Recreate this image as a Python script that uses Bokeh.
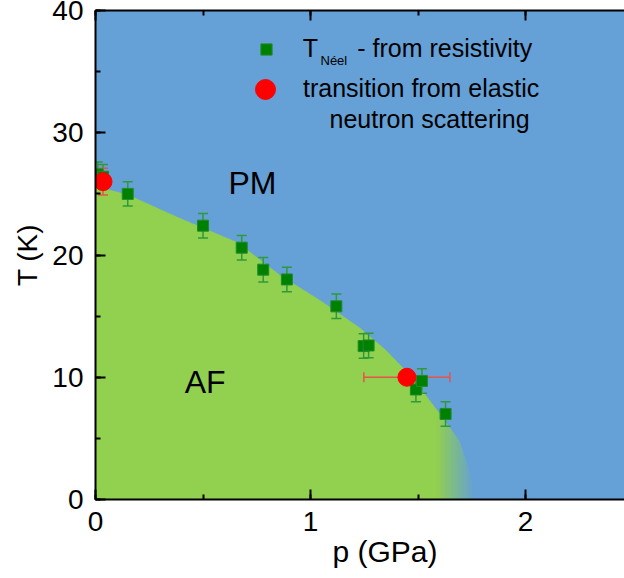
import numpy as np
from bokeh.plotting import figure
from bokeh.models import (ColumnDataSource, Whisker, TeeHead, LinearAxis, SingleIntervalTicker,
                          Label, Legend, LegendItem, Range1d)
from bokeh.embed import file_html
from bokeh.resources import INLINE

# ---------------- data ----------------
# T_Neel from resistivity
p_res = [0.01, 0.035, 0.15, 0.50, 0.68, 0.78, 0.89, 1.12, 1.247, 1.27, 1.49, 1.518, 1.628]
T_res = [26.6, 26.4, 25.0, 22.4, 20.6, 18.8, 18.0, 15.8, 12.55, 12.6, 9.0, 9.7, 7.0]
T_res_err = [1.0, 1.0, 1.0, 1.0, 1.0, 1.0, 1.0, 1.0, 1.0, 1.0, 1.0, 1.0, 1.0]

# transition from elastic neutron scattering
p_neu = [0.035, 1.448]
T_neu = [26.0, 10.0]
p_neu_err = [0.0, 0.2]
T_neu_err = [1.1, 0.0]

# AF / PM phase boundary
boundary_p = [0.0, 0.15, 0.39, 0.66, 0.86, 1.05, 1.23, 1.35, 1.47, 1.60, 1.69, 1.735, 1.766]
boundary_T = [25.6, 24.9, 23.0, 21.0, 18.3, 16.2, 14.0, 12.2, 10.0, 7.0, 4.8, 2.4, 0.0]
fade_start_p = 1.59   # where the AF colour starts to fade out

phase_names = ["PM", "AF"]
phase_p = [0.73, 0.51]
phase_T = [25.9, 9.6]

x_tick_interval = 1
y_tick_interval = 10

# ---------------- style ----------------
FONT = "Liberation Sans"
BLUE = "#65a0d7"
GREEN = "#92d050"

p = figure(width=624, height=578, x_range=Range1d(0, 2.46), y_range=Range1d(0, 40),
           output_backend="svg", toolbar_location=None,
           min_border_left=95, min_border_right=0, min_border_top=10, min_border_bottom=79)
p.background_fill_color = BLUE
p.border_fill_color = "white"
p.outline_line_color = None
p.grid.visible = False

# axes
def style_axis(ax, labels=True):
    ax.axis_line_width = 2
    ax.axis_line_color = "black"
    ax.major_tick_in = 10
    ax.major_tick_out = 0
    ax.minor_tick_in = 5
    ax.minor_tick_out = 0
    ax.major_tick_line_width = 2
    ax.minor_tick_line_width = 2
    ax.major_label_text_font = FONT
    ax.major_label_text_color = "black"
    ax.major_label_text_font_size = "28px"

p.xaxis.ticker = SingleIntervalTicker(interval=x_tick_interval, num_minor_ticks=2)
p.yaxis.ticker = SingleIntervalTicker(interval=y_tick_interval, num_minor_ticks=2)
style_axis(p.xaxis[0])
style_axis(p.yaxis[0])
p.xaxis.major_label_standoff = 12
p.yaxis.major_label_standoff = 12

NB = "\u00a0"
for ax, txt, so, fs in ((p.xaxis[0], NB * 6 + "p (GPa)", 1, "30px"),
                        (p.yaxis[0], "T (K)", 6, "28px")):
    ax.axis_label = txt
    ax.axis_label_text_font = FONT
    ax.axis_label_text_font_size = fs
    ax.axis_label_text_font_style = "normal"
    ax.axis_label_text_color = "black"
    ax.axis_label_standoff = so

# top axis: inward ticks only, no labels
top = LinearAxis(ticker=SingleIntervalTicker(interval=x_tick_interval, num_minor_ticks=2))
style_axis(top)
top.major_label_overrides = {0: "", 1: "", 2: ""}
top.major_label_text_font_size = "1px"
top.major_label_standoff = 0
p.add_layout(top, "above")

# ---------------- phase regions ----------------
pg = np.linspace(0, fade_start_p, 300)
Tg = np.interp(pg, boundary_p, boundary_T)
p.patch(x=np.concatenate([[0], pg, [fade_start_p]]),
        y=np.concatenate([[0], Tg, [0]]),
        fill_color=GREEN, line_color=GREEN, line_width=1, level="image")

pmax = boundary_p[-1]
edges = np.linspace(fade_start_p, pmax, 41)
c_g = np.array([0x92, 0xd0, 0x50], float)
c_b = np.array([0x65, 0xa0, 0xd7], float)
xs, ys, cols = [], [], []
for a, b in zip(edges[:-1], edges[1:]):
    ta, tb = np.interp([a, b], boundary_p, boundary_T)
    xs.append([a, a, b, b])
    ys.append([0, ta, tb, 0])
    t = ((a + b) / 2 - fade_start_p) / (pmax - fade_start_p)
    c = c_g * (1 - t) + c_b * t
    cols.append("#%02x%02x%02x" % tuple(int(round(v)) for v in c))
p.patches(xs=xs, ys=ys, fill_color=cols, line_color=cols, line_width=1, level="image")

# ---------------- error bars ----------------
src_res = ColumnDataSource(dict(
    p=p_res, T=T_res,
    lo=[t - e for t, e in zip(T_res, T_res_err)],
    hi=[t + e for t, e in zip(T_res, T_res_err)]))
ebar_col = "#2f9a3a"
p.add_layout(Whisker(source=src_res, base="p", lower="lo", upper="hi", dimension="height",
                     line_color=ebar_col, line_width=1.5, level="underlay",
                     upper_head=TeeHead(size=10, line_color=ebar_col, line_width=1.5),
                     lower_head=TeeHead(size=10, line_color=ebar_col, line_width=1.5)))

src_neu = ColumnDataSource(dict(
    p=p_neu, T=T_neu,
    plo=[a - e for a, e in zip(p_neu, p_neu_err)],
    phi=[a + e for a, e in zip(p_neu, p_neu_err)],
    tlo=[a - e for a, e in zip(T_neu, T_neu_err)],
    thi=[a + e for a, e in zip(T_neu, T_neu_err)]))
red_e = "#e8534a"
p.add_layout(Whisker(source=src_neu, base="T", lower="plo", upper="phi", dimension="width",
                     line_color=red_e, line_width=1.5, level="underlay",
                     upper_head=TeeHead(size=10, line_color=red_e, line_width=1.5),
                     lower_head=TeeHead(size=10, line_color=red_e, line_width=1.5)))
p.add_layout(Whisker(source=src_neu, base="p", lower="tlo", upper="thi", dimension="height",
                     line_color=red_e, line_width=1.5, level="underlay",
                     upper_head=TeeHead(size=10, line_color=red_e, line_width=1.5),
                     lower_head=TeeHead(size=10, line_color=red_e, line_width=1.5)))

# ---------------- markers ----------------
sq = p.scatter(x="p", y="T", source=src_res, marker="square", size=11,
               fill_color="#008000", line_color="#1e8c2a", line_width=1)
ci = p.scatter(x="p", y="T", source=src_neu, marker="circle", size=18,
               fill_color="#ff0000", line_color="#ff0000")

# ---------------- legend ----------------
leg1 = Legend(items=[LegendItem(label="T", renderers=[sq])], location=(156.7, 436),
              background_fill_alpha=0, border_line_color=None, padding=0, margin=0,
              glyph_width=28, glyph_height=28, label_standoff=23,
              label_text_font=FONT, label_text_font_size="25px", label_text_color="black")
leg2 = Legend(items=[LegendItem(label="transition from elastic", renderers=[ci])], location=(145, 385.5),
              background_fill_alpha=0, border_line_color=None, padding=0, margin=0,
              glyph_width=50, glyph_height=50, label_standoff=13,
              label_text_font=FONT, label_text_font_size="25px", label_text_color="black")
p.add_layout(leg1)
p.add_layout(leg2)

p.add_layout(Label(x=225, y=439.5, x_units="screen", y_units="screen", text="Néel",
                   text_font=FONT, text_font_size="13px", text_baseline="alphabetic",
                   text_color="black"))
p.add_layout(Label(x=261.7, y=451.5, x_units="screen", y_units="screen", text="- from resistivity",
                   text_font=FONT, text_font_size="25px", text_baseline="alphabetic",
                   text_color="black"))
p.add_layout(Label(x=234, y=380.5, x_units="screen", y_units="screen", text="neutron scattering",
                   text_font=FONT, text_font_size="25px", text_baseline="alphabetic",
                   text_color="black"))

# ---------------- phase names ----------------
for name, xp, yt in zip(phase_names, phase_p, phase_T):
    p.add_layout(Label(x=xp, y=yt, text=name, text_font=FONT, text_font_size="32px",
                       text_align="center", text_baseline="middle", text_color="black"))

open("out.html", "w").write(file_html(p, INLINE))
